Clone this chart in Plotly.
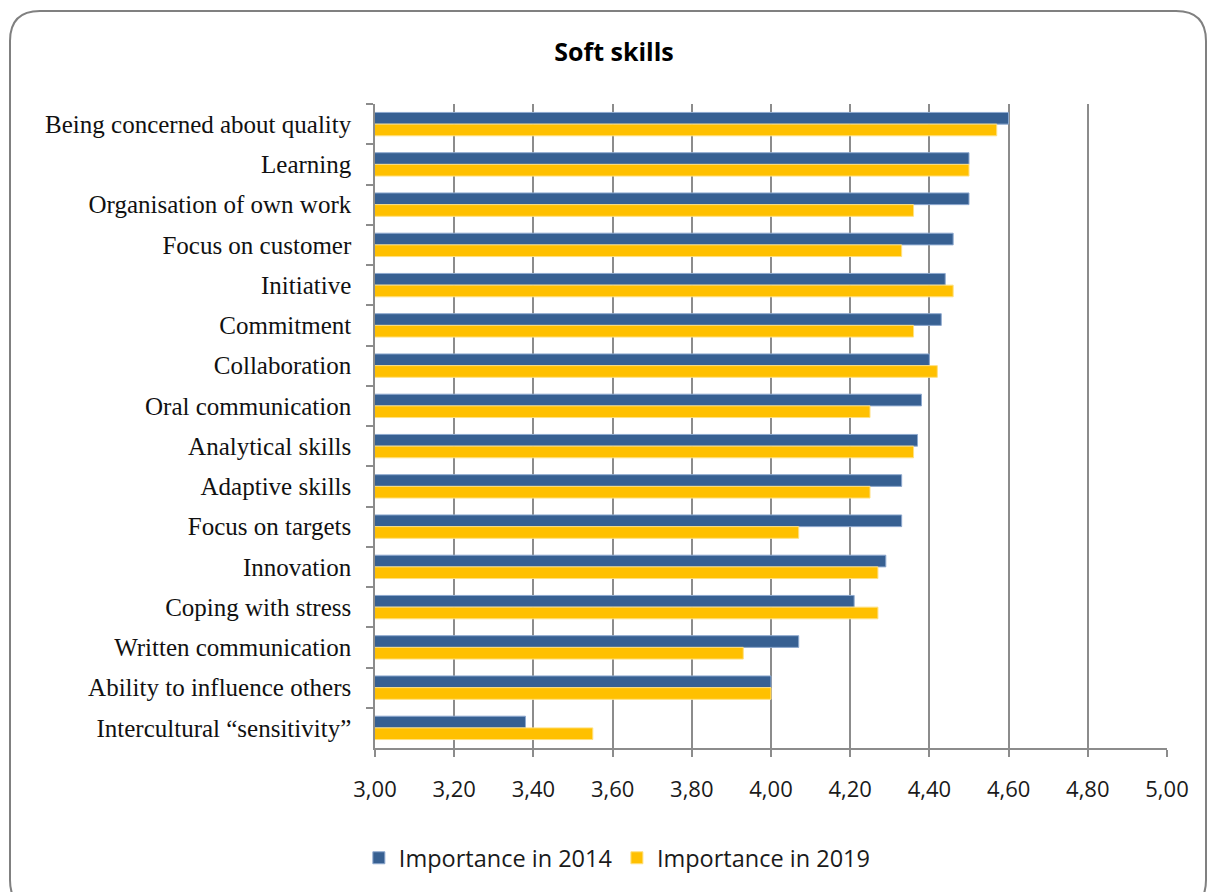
import plotly.graph_objects as go

categories = [
    "Being concerned about quality",
    "Learning",
    "Organisation of own work",
    "Focus on customer",
    "Initiative",
    "Commitment",
    "Collaboration",
    "Oral communication",
    "Analytical skills",
    "Adaptive skills",
    "Focus on targets",
    "Innovation",
    "Coping with stress",
    "Written communication",
    "Ability to influence others",
    "Intercultural \u201csensitivity\u201d",
]
importance_2014 = [4.60, 4.50, 4.50, 4.46, 4.44, 4.43, 4.40, 4.38, 4.37, 4.33, 4.33, 4.29, 4.21, 4.07, 4.00, 3.38]
importance_2019 = [4.57, 4.50, 4.36, 4.33, 4.46, 4.36, 4.42, 4.25, 4.36, 4.25, 4.07, 4.27, 4.27, 3.93, 4.00, 3.55]
series_names = ["Importance in 2014", "Importance in 2019"]

W, H = 1208, 892
L, R, T, B = 375, 41, 104, 144
PW, PH = W - L - R, H - T - B

def px(x):
    return (x - L) / PW

def py(y):
    return (H - B - y) / PH

fig = go.Figure()
fig.add_trace(go.Bar(
    y=categories, x=importance_2014, name=series_names[0], orientation="h",
    marker=dict(color="#376092", line=dict(color="#8EA9CF", width=1)),
    base=0,
))
fig.add_trace(go.Bar(
    y=categories, x=importance_2019, name=series_names[1], orientation="h",
    marker=dict(color="#FFC000", line=dict(color="#FFE080", width=1)),
    base=0,
))

# rounded border
x0, y0, x1, y1, r = 10, 11, 1206, 910, 30
path = (
    f"M {px(x0 + r)},{py(y0)} L {px(x1 - r)},{py(y0)} "
    f"Q {px(x1)},{py(y0)} {px(x1)},{py(y0 + r)} "
    f"L {px(x1)},{py(y1 - r)} Q {px(x1)},{py(y1)} {px(x1 - r)},{py(y1)} "
    f"L {px(x0 + r)},{py(y1)} Q {px(x0)},{py(y1)} {px(x0)},{py(y1 - r)} "
    f"L {px(x0)},{py(y0 + r)} Q {px(x0)},{py(y0)} {px(x0 + r)},{py(y0)} Z"
)

sans = "Open Sans, Liberation Sans, sans-serif"

fig.update_layout(
    width=W, height=H,
    margin=dict(l=L, r=R, t=T, b=B, autoexpand=False),
    paper_bgcolor="white", plot_bgcolor="white",
    barmode="group", bargap=0.42, bargroupgap=0,
    separators=", ",
    title=dict(text="<b>Soft skills</b>", x=614 / W, xref="container", xanchor="center",
               y=1 - 52 / H, yref="container", yanchor="middle",
               font=dict(family=sans, size=25, color="#000000")),
    xaxis=dict(
        range=[3.0, 5.0], dtick=0.2, tick0=3.0, tickformat=".2f",
        showgrid=True, gridcolor="#8C8C8C", gridwidth=1.5,
        showline=True, linecolor="#8C8C8C", linewidth=1.5,
        ticks="outside", ticklen=7, tickcolor="#8C8C8C", tickwidth=1.5,
        tickfont=dict(family=sans, size=22, color="#1a1a1a"),
        zeroline=False, fixedrange=True, ticklabelstandoff=14,
    ),
    yaxis=dict(
        autorange="reversed", type="category",
        showline=True, linecolor="#8C8C8C", linewidth=1.5,
        ticks="outside", ticklen=7, tickcolor="#8C8C8C", tickwidth=1.5,
        tickson="boundaries", showgrid=False,
        tickfont=dict(family="Liberation Serif, DejaVu Serif, serif", size=25, color="#111111"),
        ticklabelstandoff=17,
    ),
    legend=dict(
        orientation="h", x=0.306, xanchor="center", y=py(858), yanchor="middle",
        font=dict(family=sans, size=23.5, color="#1a1a1a"),
        itemwidth=30, traceorder="normal",
    ),
    shapes=[dict(type="path", path=path, xref="paper", yref="paper",
                 line=dict(color="#808080", width=2), fillcolor="rgba(0,0,0,0)", layer="below")],
    showlegend=True,
)

fig.write_html("out.html")
